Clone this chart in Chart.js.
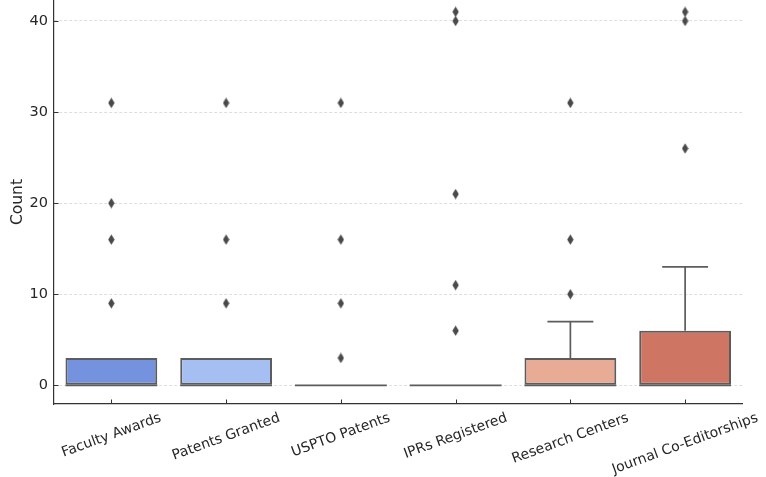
<!DOCTYPE html>
<html>
<head>
<meta charset="utf-8">
<script src="https://cdn.jsdelivr.net/npm/chart.js@4/dist/chart.umd.min.js"></script>
<style>
  html, body { margin: 0; padding: 0; background: #fff; }
  canvas { display: block; }
</style>
</head>
<body>
<canvas id="boxChart" width="766" height="477"></canvas>
<script>
// box plot stats
const categories = ['Faculty Awards', 'Patents Granted', 'USPTO Patents', 'IPRs Registered', 'Research Centers', 'Journal Co-Editorships'];
const q1 = [0, 0, 0, 0, 0, 0];
const median = [0, 0, 0, 0, 0, 0];
const q3 = [3, 3, 0, 0, 3, 6];
const whiskerLow = [0, 0, 0, 0, 0, 0];
const whiskerHigh = [3, 3, 0, 0, 7, 13];
const outliers = [
    [9, 16, 20, 31],
    [9, 16, 31],
    [3, 9, 16, 31],
    [6, 11, 21, 40, 41],
    [10, 16, 31],
    [26, 40, 41]
];
const yTicks = [0, 10, 20, 30, 40];
const boxColors = ['#7592de', '#a6bff2', '#dcdddd', '#f2cbb7', '#e8ab96', '#cf7563'];

const lineColor = '#5c5c5c';
const textColor = '#262626';

// thin diamond marker like matplotlib 'd'
const diamond = document.createElement('canvas');
diamond.width = 7;
diamond.height = 11;
const dctx = diamond.getContext('2d');
dctx.fillStyle = '#4a4a4a';
dctx.beginPath();
dctx.moveTo(3.5, 0.3);
dctx.lineTo(6.7, 5.5);
dctx.lineTo(3.5, 10.7);
dctx.lineTo(0.3, 5.5);
dctx.closePath();
dctx.fill();

const flierPoints = [];
outliers.forEach((vals, i) => {
    vals.forEach(v => flierPoints.push({x: categories[i], y: v}));
});

const boxExtras = {
    id: 'boxExtras',
    afterDatasetsDraw(chart) {
        const ctx = chart.ctx;
        const x = chart.scales.x, y = chart.scales.y;
        const bars = chart.getDatasetMeta(0).data;
        ctx.save();
        ctx.strokeStyle = lineColor;
        ctx.lineWidth = 1.7;
        ctx.lineCap = 'butt';
        categories.forEach((c, i) => {
            const cx = x.getPixelForValue(i);
            const half = bars[i].width / 2;
            // whiskers
            ctx.beginPath();
            ctx.moveTo(cx, y.getPixelForValue(q3[i]));
            ctx.lineTo(cx, y.getPixelForValue(whiskerHigh[i]));
            ctx.moveTo(cx, y.getPixelForValue(q1[i]));
            ctx.lineTo(cx, y.getPixelForValue(whiskerLow[i]));
            ctx.stroke();
            // caps (only where the whisker leaves the box)
            ctx.beginPath();
            if (whiskerHigh[i] > q3[i]) {
                ctx.moveTo(cx - half / 2, y.getPixelForValue(whiskerHigh[i]));
                ctx.lineTo(cx + half / 2, y.getPixelForValue(whiskerHigh[i]));
            }
            if (whiskerLow[i] < q1[i]) {
                ctx.moveTo(cx - half / 2, y.getPixelForValue(whiskerLow[i]));
                ctx.lineTo(cx + half / 2, y.getPixelForValue(whiskerLow[i]));
            }
            ctx.stroke();
            // median
            ctx.beginPath();
            ctx.moveTo(cx - half, y.getPixelForValue(median[i]));
            ctx.lineTo(cx + half, y.getPixelForValue(median[i]));
            ctx.stroke();
        });
        ctx.restore();
    },
    afterDraw(chart) {
        const ctx = chart.ctx;
        const x = chart.scales.x, y = chart.scales.y;
        const area = chart.chartArea;
        ctx.save();
        // inward tick marks
        ctx.strokeStyle = '#333';
        ctx.lineWidth = 1;
        ctx.beginPath();
        yTicks.forEach(t => {
            const py = Math.round(y.getPixelForValue(t)) + 0.5;
            ctx.moveTo(area.left, py);
            ctx.lineTo(area.left + 4.5, py);
        });
        categories.forEach((c, i) => {
            const px = Math.round(x.getPixelForValue(i)) + 0.5;
            ctx.moveTo(px, area.bottom);
            ctx.lineTo(px, area.bottom - 4.5);
        });
        ctx.stroke();
        // rotated category labels, centred under each tick
        ctx.fillStyle = textColor;
        ctx.font = '14px "DejaVu Sans"';
        ctx.textAlign = 'center';
        ctx.textBaseline = 'middle';
        const ang = 20 * Math.PI / 180;
        categories.forEach((c, i) => {
            const w = ctx.measureText(c).width;
            const cx = x.getPixelForValue(i);
            const cy = area.bottom + 13.5 + w * Math.sin(ang) / 2;
            ctx.save();
            ctx.translate(cx, cy);
            ctx.rotate(-ang);
            ctx.fillText(c, 0, 0);
            ctx.restore();
        });
        ctx.restore();
    }
};

const boxChart = new Chart(document.getElementById('boxChart').getContext('2d'), {
    type: 'bar',
    data: {
        labels: categories,
        datasets: [{
            type: 'bar',
            data: categories.map((c, i) => [q1[i], q3[i]]),
            backgroundColor: boxColors,
            borderColor: lineColor,
            borderWidth: 2,
            borderSkipped: false,
            barPercentage: 0.8,
            categoryPercentage: 1.0,
            order: 2
        }, {
            type: 'line',
            data: flierPoints,
            showLine: false,
            pointStyle: diamond,
            pointRadius: 5,
            order: 1
        }]
    },
    options: {
        responsive: false,
        animation: false,
        layout: { autoPadding: false, padding: { left: 0, right: 23.5, top: 0, bottom: 0 } },
        plugins: {
            legend: { display: false },
            tooltip: { enabled: false }
        },
        scales: {
            x: {
                type: 'category',
                offset: true,
                grid: { display: false, drawTicks: false },
                border: { display: true, color: '#333', width: 1.2 },
                ticks: { display: false },
                afterFit: s => {
                    s.height = 73;
                    s.paddingLeft = 0; s.paddingRight = 0;
                }
            },
            y: {
                min: -2.05,
                max: 42.3,
                afterBuildTicks: s => { s.ticks = yTicks.map(v => ({value: v})); },
                grid: { color: '#dedede', lineWidth: 1, drawTicks: false },
                border: { display: true, color: '#333', width: 1.2, dash: [3, 2] },
                ticks: {
                    color: textColor,
                    padding: 6,
                    font: { family: 'DejaVu Sans', size: 14.5 }
                },
                title: {
                    display: true,
                    text: 'Count',
                    color: textColor,
                    padding: { top: 9, bottom: 0 },
                    font: { family: 'DejaVu Sans', size: 15.5 }
                },
                afterFit: s => {
                    s.width = 54;
                    s.paddingTop = 0; s.paddingBottom = 0;
                }
            }
        }
    },
    plugins: [boxExtras]
});
</script>
</body>
</html>
